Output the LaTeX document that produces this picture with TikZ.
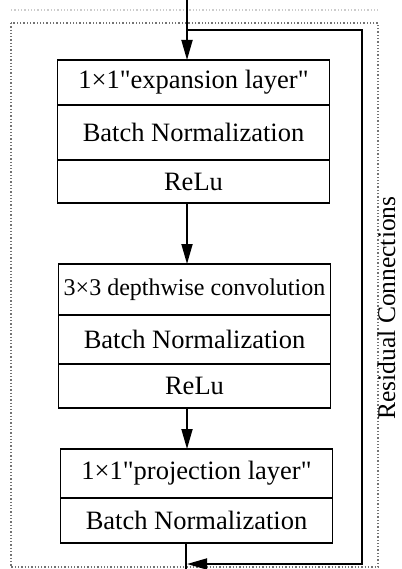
\documentclass[tikz,border=0pt]{standalone}
\usepackage{fontspec}
\setmainfont{Liberation Serif}
\usetikzlibrary{arrows.meta,positioning}
\begin{document}
\begin{tikzpicture}[x=1pt,y=-1pt,
  layer/.style={draw, line width=1.6pt, minimum width=272pt, inner sep=0pt, outer sep=0pt, font=\fontsize{26.5}{30}\selectfont},
  flow/.style={line width=1.8pt, -{Triangle[length=20pt,width=11pt]}},
  wire/.style={line width=1.8pt},
  frame/.style={dotted, line width=1.3pt, black!55}]
\useasboundingbox (0,0) rectangle (401,569);
\draw [frame] (11,23) rectangle (378,567);
\draw [frame, black!20] (11,10) -- (378,10);
\coordinate (in) at (187,0);
\coordinate (split) at (187,30);
\coordinate (rtop) at (362,30);
\coordinate (rbot) at (362,564);
\coordinate (join) at (187,564);
\coordinate (out) at (186,569);
\node [layer, minimum height=45pt] (e1) at (193.5,82.5) {1\texttimes1\textquotedbl expansion layer\textquotedbl};
\node [layer, minimum height=55pt, below=0pt of e1] (e2) {Batch Normalization};
\node [layer, minimum height=43pt, below=0pt of e2] (e3) {ReLu};
\node [layer, minimum height=51pt, font=\fontsize{24}{28}\selectfont] (d1) at (194.5,289.5) {3\texttimes3 depthwise convolution};
\node [layer, minimum height=49pt, below=0pt of d1] (d2) {Batch Normalization};
\node [layer, minimum height=44pt, below=0pt of d2] (d3) {ReLu};
\node [layer, minimum height=49pt] (p1) at (196.5,473.5) {1\texttimes1\textquotedbl projection layer\textquotedbl};
\node [layer, minimum height=45pt, below=0pt of p1] (p2) {Batch Normalization};
\node [rotate=90, anchor=base, inner sep=0pt, font=\fontsize{25.5}{30}\selectfont] (res) at (395,308) {Residual Connections};
\draw [flow] (in) -- (in |- e1.north);
\draw [flow] (e3.south -| in) -- (d1.north -| in);
\draw [flow] (d3.south -| in) -- (p1.north -| in);
\draw [flow] (split) -- (rtop) -- (rbot) -- (join);
\draw [wire] (p2.south -| out) -- (out);
\end{tikzpicture}
\end{document}
